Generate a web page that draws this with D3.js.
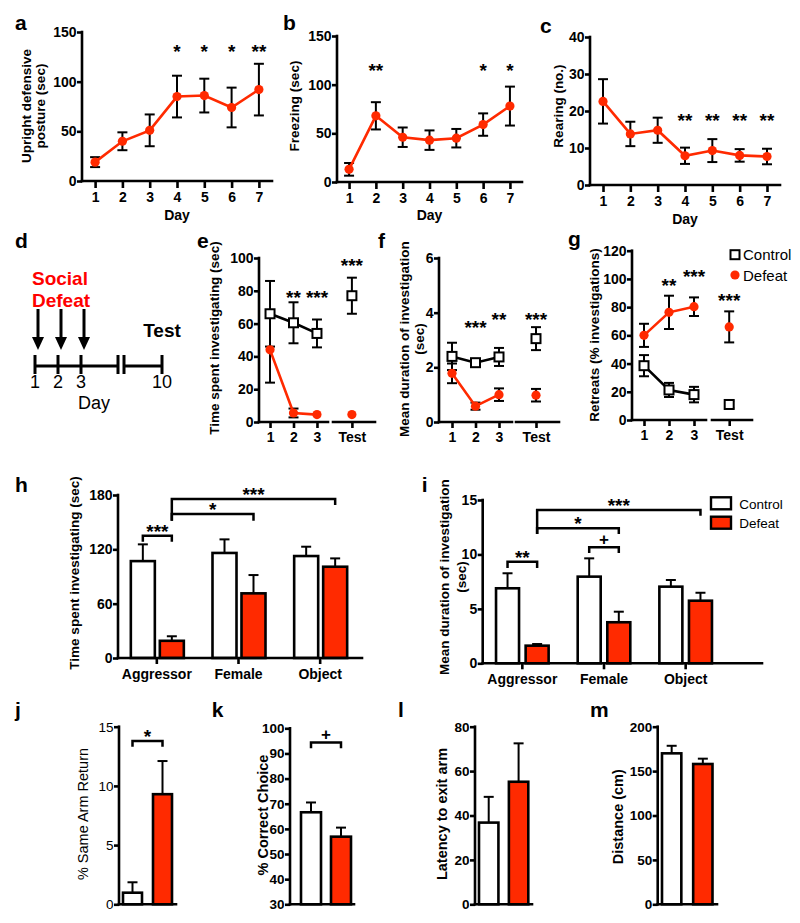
<!DOCTYPE html>
<html>
<head>
<meta charset="utf-8">
<script src="https://cdn.jsdelivr.net/npm/d3@7/dist/d3.min.js"></script>
<style>
html,body{margin:0;padding:0;background:#fff;}
svg{display:block;}
</style>
</head>
<body>
<svg id="fig" width="800" height="923"></svg>
<script>
// ---------------- DATA ----------------
const days = [1, 2, 3, 4, 5, 6, 7];

const uprightMean = [19, 40, 51, 85, 86, 74, 92];
const uprightSem  = [5, 9, 16, 21, 17, 20, 26];
const uprightStars = ["", "", "", "*", "*", "*", "**"];
const uprightStarLevel = 135;
const uprightTicks = [0, 50, 100, 150];

const freezingMean = [13, 68, 46, 43, 45, 59, 78];
const freezingSem  = [6.5, 14, 10, 10, 9.5, 11.5, 20];
const freezingStars = ["", "**", "", "", "", "*", "*"];
const freezingStarLevel = 118.5;
const freezingTicks = [0, 50, 100, 150];

const rearingMean = [22.6, 13.8, 14.8, 7.9, 9.3, 8.0, 7.7];
const rearingSem  = [6, 3.3, 3.4, 2.2, 3.1, 1.7, 2.1];
const rearingStars = ["", "", "", "**", "**", "**", "**"];
const rearingStarLevel = 18.5;
const rearingTicks = [0, 10, 20, 30, 40];

const defeatDays = [1, 2, 3];
const timelineDays = [1, 2, 3, 10];

const sessions = ["1", "2", "3", "Test"];
const timeCtrl = [66, 60.5, 54, 77];
const timeCtrlSem = [20, 12.5, 8.5, 11];
const timeDef = [44, 5.5, 4.5, 4.5];
const timeDefSem = [20, 2.7, 0, 0];
const timeStars = ["", "**", "***", "***"];
const timeStarLevel = [0, 78.5, 78.5, 97.7];
const timeTicks = [0, 20, 40, 60, 80, 100];

const durCtrl = [2.4, 2.17, 2.38, 3.05];
const durCtrlSem = [0.5, 0.1, 0.33, 0.42];
const durDef = [1.78, 0.58, 1.0, 0.98];
const durDefSem = [0.36, 0.13, 0.23, 0.23];
const durStars = ["", "***", "**", "***"];
const durStarLevel = [0, 3.61, 3.91, 3.91];
const durTicks = [0, 2, 4, 6];

const retCtrl = [38.5, 21.3, 18, 11];
const retCtrlSem = [7.5, 5, 5.5, 2.5];
const retDef = [60, 76.3, 80.3, 66];
const retDefSem = [8.2, 11.8, 6.6, 11];
const retStars = ["", "**", "***", "***"];
const retStarLevel = [0, 98, 105, 87.4];
const retTicks = [0, 20, 40, 60, 80, 100, 120];

const groups = ["Control", "Defeat"];
const targets = ["Aggressor", "Female", "Object"];

const hCtrl = [107, 116, 112.6];
const hCtrlSem = [18.5, 15, 10.3];
const hDef = [19, 71.4, 100.8];
const hDefSem = [5, 20.2, 9.2];
const hTicks = [0, 60, 120, 180];
const hBrackets = [
  {from: ["Aggressor", "Control"], to: ["Aggressor", "Defeat"], level: 135, legFrom: 128.4, legTo: 128.4, label: "***"},
  {from: ["Aggressor", "Defeat"], to: ["Female", "Defeat"], level: 159, legFrom: 151.6, legTo: 151.6, label: "*"},
  {from: ["Aggressor", "Defeat"], to: ["Object", "Defeat"], level: 175.6, legFrom: 151.6, legTo: 169, label: "***"}
];

const iCtrl = [6.89, 7.96, 7.04];
const iCtrlSem = [1.38, 1.68, 0.61];
const iDef = [1.62, 3.77, 5.75];
const iDefSem = [0.15, 0.97, 0.73];
const iTicks = [0, 5, 10, 15];
const iBrackets = [
  {from: ["Aggressor", "Control"], to: ["Aggressor", "Defeat"], level: 9.33, legFrom: 8.75, legTo: 8.75, label: "**"},
  {from: ["Female", "Control"], to: ["Female", "Defeat"], level: 10.65, legFrom: 10.13, legTo: 10.13, label: "+"},
  {from: ["Aggressor", "Defeat"], to: ["Female", "Defeat"], level: 12.4, legFrom: 11.87, legTo: 11.87, label: "*"},
  {from: ["Aggressor", "Defeat"], to: ["Object", "Defeat"], level: 14.08, legFrom: 11.87, legTo: 13.55, label: "***"}
];

const jVals = [0.98, 9.3];
const jSem = [0.88, 2.8];
const jTicks = [0, 5, 10, 15];
const jBracket = {level: 13.8, leg: 13.3, label: "*"};

const kVals = [66.6, 56.9];
const kSem = [3.9, 3.6];
const kTicks = [30, 40, 50, 60, 70, 80, 90, 100];
const kBracket = {level: 94.4, leg: 92.05, label: "+"};

const lVals = [36.8, 55.2];
const lSem = [11.6, 17.3];
const lTicks = [0, 20, 40, 60, 80];

const mVals = [170, 158];
const mSem = [8.5, 6];
const mTicks = [0, 50, 100, 150, 200];

// ---------------- DRAWING ----------------
const FONT = "'Liberation Sans', Arial, Helvetica, sans-serif";
const RED = "#ff2a00";
const SW = 2.6;
const svg = d3.select("#fig");

function ln(g, x1, y1, x2, y2, sw = SW, color = "#000", cap = "square") {
  return g.append("line").attr("x1", x1).attr("y1", y1).attr("x2", x2).attr("y2", y2)
    .attr("stroke", color).attr("stroke-width", sw).attr("stroke-linecap", cap);
}
function txt(g, x, y, s, o = {}) {
  const t = g.append("text").attr("x", x).attr("y", y).text(s)
    .attr("font-family", FONT).attr("font-size", o.size || 14)
    .attr("font-weight", o.weight || "bold").attr("fill", o.fill || "#000")
    .attr("text-anchor", o.anchor || "middle");
  if (o.rotate) t.attr("transform", `rotate(-90,${x},${y})`);
  return t;
}
function letter(x, y, s) { txt(svg, x, y, s, {size: 21, anchor: "start"}); }
function yLabel(g, lines, xs, yc, size = 13.5, weight = "bold") {
  lines.forEach((l, i) => txt(g, xs[i], yc, l, {size, weight, rotate: true}));
}
function leftAxis(g, y, x, ticks, o = {}) {
  const gg = g.append("g").attr("transform", `translate(${x},0)`)
    .call(d3.axisLeft(y).tickValues(ticks).tickSize(5).tickPadding(0.5).tickFormat(d3.format("d")));
  gg.attr("font-family", FONT).attr("font-size", o.size || 14).attr("font-weight", o.weight || "bold");
  gg.select(".domain").remove();
  gg.selectAll(".tick line").attr("stroke", "#000").attr("stroke-width", SW);
  gg.selectAll(".tick text").attr("fill", "#000");
  const r = y.range();
  ln(gg, 0, r[0], 0, r[1]);
  return gg;
}
function bottomAxis(g, x, yPix, x0, x1, ts, tp, o = {}) {
  const ax = d3.axisBottom(x).tickSize(ts).tickPadding(tp);
  const gg = g.append("g").attr("transform", `translate(0,${yPix})`).call(ax);
  gg.attr("font-family", FONT).attr("font-size", o.size || 14).attr("font-weight", "bold");
  gg.select(".domain").remove();
  gg.selectAll(".tick line").attr("stroke", "#000").attr("stroke-width", SW);
  gg.selectAll(".tick text").attr("fill", "#000");
  ln(gg, x0, 0, x1, 0);
  return gg;
}
function errBar(g, x, yLo, yHi, cap = 5, both = true) {
  ln(g, x, yLo, x, yHi, 2, "#000", "butt");
  ln(g, x - cap, yHi, x + cap, yHi, 2, "#000", "butt");
  if (both) ln(g, x - cap, yLo, x + cap, yLo, 2, "#000", "butt");
}
function star(g, x, yc, s, size = 19) {
  const off = s === "+" ? 0.36 : 0.56;
  txt(g, x, yc + off * size, s, {size});
}

// ---- panels a, b, c ----
function linePanel(c) {
  const g = svg.append("g");
  const x = d3.scalePoint().domain(days).range([c.x0, c.x1]).padding(c.pad);
  const y = d3.scaleLinear().domain([0, c.yMax]).range([c.yb, c.yt]);
  leftAxis(g, y, c.x0, c.ticks);
  bottomAxis(g, x, c.yb, c.x0, c.x1, 7, 4);
  days.forEach((d, i) => errBar(g, x(d), y(c.mean[i] - c.sem[i]), y(c.mean[i] + c.sem[i])));
  g.append("path").datum(days)
    .attr("d", d3.line().x(d => x(d)).y((d, i) => y(c.mean[i])))
    .attr("fill", "none").attr("stroke", RED).attr("stroke-width", 2.6);
  g.selectAll("circle.pt").data(days).join("circle").attr("class", "pt")
    .attr("cx", d => x(d)).attr("cy", (d, i) => y(c.mean[i])).attr("r", 4.6).attr("fill", RED);
  days.forEach((d, i) => { if (c.stars[i]) star(g, x(d), y(c.starLevel), c.stars[i]); });
  yLabel(g, c.label, c.labelX, c.labelY);
  txt(g, (c.x0 + c.x1) / 2, c.dayY, "Day", {size: 14});
}
linePanel({x0: 82, x1: 272, pad: 0.48, yb: 181, yt: 32, yMax: 150, ticks: uprightTicks,
  mean: uprightMean, sem: uprightSem, stars: uprightStars, starLevel: uprightStarLevel,
  label: ["Upright defensive", "posture (sec)"], labelX: [31, 44.5], labelY: 106, dayY: 220});
linePanel({x0: 337, x1: 522, pad: 0.45, yb: 182, yt: 36, yMax: 150, ticks: freezingTicks,
  mean: freezingMean, sem: freezingSem, stars: freezingStars, starLevel: freezingStarLevel,
  label: ["Freezing (sec)"], labelX: [298.6], labelY: 106, dayY: 220});
linePanel({x0: 590, x1: 780, pad: 0.476, yb: 185, yt: 37, yMax: 40, ticks: rearingTicks,
  mean: rearingMean, sem: rearingSem, stars: rearingStars, starLevel: rearingStarLevel,
  label: ["Rearing (no.)"], labelX: [562.6], labelY: 106, dayY: 224});
letter(15, 30, "a"); letter(283, 30, "b"); letter(540, 33, "c");

// ---- panel d ----
(function () {
  const g = svg.append("g");
  const xd = d3.scaleLinear().domain([1, 3, 10]).range([35, 81, 162]);
  const ty = 366;
  ln(g, xd(1), ty, 118, ty, 3, "#000", "butt");
  ln(g, 124, ty, xd(10), ty, 3, "#000", "butt");
  ln(g, 118, 355, 118, 374, 3, "#000", "butt");
  ln(g, 124, 355, 124, 374, 3, "#000", "butt");
  timelineDays.forEach(d => {
    ln(g, xd(d), 355, xd(d), 374, 3, "#000", "butt");
    txt(g, xd(d), 388, String(d), {size: 18, weight: "normal"});
  });
  defeatDays.forEach(d => {
    const ax = xd(d) + 3;
    ln(g, ax, 309, ax, 340, 3, "#000", "butt");
    g.append("path").attr("d", `M${ax - 6},337 L${ax + 6},337 L${ax},350 Z`).attr("fill", "#000");
  });
  txt(g, 94, 409, "Day", {size: 18, weight: "normal"});
  txt(g, 32, 285, "Social", {size: 19, fill: "#ff0000", anchor: "start"});
  txt(g, 32, 307, "Defeat", {size: 19, fill: "#ff0000", anchor: "start"});
  txt(g, 162, 337, "Test", {size: 19});
})();
letter(15, 248, "d");

// ---- panels e, f, g ----
function sessionPanel(c) {
  const g = svg.append("g");
  const x1 = d3.scalePoint().domain(sessions.slice(0, 3)).range([c.x0, c.x1]).padding(c.pad);
  const xT = d3.scalePoint().domain(["Test"]).range([c.t0, c.t1]).padding(0.5).align(c.talign);
  const xs = d => d === "Test" ? xT(d) : x1(d);
  const y = d3.scaleLinear().domain([0, c.yMax]).range([c.yb, c.yt]);
  leftAxis(g, y, c.x0, c.ticks);
  bottomAxis(g, x1, c.yb, c.x0, c.x1, 6, 4);
  bottomAxis(g, xT, c.yb, c.t0, c.t1, 6, 4);
  sessions.forEach((s, i) => {
    if (c.ctrlSem[i] > 0) errBar(g, xs(s), y(c.ctrl[i] - c.ctrlSem[i]), y(c.ctrl[i] + c.ctrlSem[i]));
    if (c.defSem[i] > 0) errBar(g, xs(s), y(c.def[i] - c.defSem[i]), y(c.def[i] + c.defSem[i]));
  });
  const first = sessions.slice(0, 3);
  g.append("path").datum(first)
    .attr("d", d3.line().x(d => xs(d)).y((d, i) => y(c.ctrl[i])))
    .attr("fill", "none").attr("stroke", "#000").attr("stroke-width", 2.6);
  g.append("path").datum(first)
    .attr("d", d3.line().x(d => xs(d)).y((d, i) => y(c.def[i])))
    .attr("fill", "none").attr("stroke", RED).attr("stroke-width", 2.6);
  g.selectAll("rect.ctrl").data(sessions).join("rect").attr("class", "ctrl")
    .attr("x", d => xs(d) - 4.5).attr("y", (d, i) => y(c.ctrl[i]) - 4.5)
    .attr("width", 9).attr("height", 9).attr("fill", "#fff").attr("stroke", "#000").attr("stroke-width", 2);
  g.selectAll("circle.def").data(sessions).join("circle").attr("class", "def")
    .attr("cx", d => xs(d)).attr("cy", (d, i) => y(c.def[i])).attr("r", 4.6).attr("fill", RED);
  sessions.forEach((s, i) => { if (c.stars[i]) star(g, xs(s), y(c.starLevel[i]), c.stars[i]); });
  yLabel(g, c.label, c.labelX, c.labelY);
  return g;
}
sessionPanel({x0: 259, x1: 328, pad: 0.47, t0: 333, t1: 375, talign: 0.45, yb: 422, yt: 258, yMax: 100,
  ticks: timeTicks, ctrl: timeCtrl, ctrlSem: timeCtrlSem, def: timeDef, defSem: timeDefSem,
  stars: timeStars, starLevel: timeStarLevel,
  label: ["Time spent investigating (sec)"], labelX: [218.6], labelY: 338});
sessionPanel({x0: 439, x1: 512, pad: 0.553, t0: 516, t1: 559, talign: 0.465, yb: 422, yt: 258, yMax: 6,
  ticks: durTicks, ctrl: durCtrl, ctrlSem: durCtrlSem, def: durDef, defSem: durDefSem,
  stars: durStars, starLevel: durStarLevel,
  label: ["Mean duration of investigation", "(sec)"], labelX: [409.3, 424.3], labelY: 339});
const gPanel = sessionPanel({x0: 632, x1: 706, pad: 0.48, t0: 712, t1: 752, talign: 0.43, yb: 420, yt: 250.7, yMax: 120,
  ticks: retTicks, ctrl: retCtrl, ctrlSem: retCtrlSem, def: retDef, defSem: retDefSem,
  stars: retStars, starLevel: retStarLevel,
  label: ["Retreats (% investigations)"], labelX: [599.3], labelY: 335});
// legend g
gPanel.append("rect").attr("x", 730.5).attr("y", 250.2).attr("width", 9).attr("height", 9)
  .attr("fill", "#fff").attr("stroke", "#000").attr("stroke-width", 2);
txt(gPanel, 743, 260, "Control", {size: 15, weight: "normal", anchor: "start"});
gPanel.append("circle").attr("cx", 735).attr("cy", 275).attr("r", 4.6).attr("fill", RED);
txt(gPanel, 743, 280.5, "Defeat", {size: 15, weight: "normal", anchor: "start"});
letter(197, 248, "e"); letter(378, 248, "f"); letter(568, 246, "g");

// ---- panels h, i ----
function groupedPanel(c) {
  const g = svg.append("g");
  const x0 = d3.scaleBand().domain(targets).range([c.r0, c.r1]);
  const x1 = d3.scaleBand().domain(groups).range([c.i0, c.i1]).paddingInner(c.ip);
  const y = d3.scaleLinear().domain([0, c.yMax]).range([c.yb, c.yt]);
  const bx = (t, k) => x0(t) + x0.bandwidth() / 2 + x1(k);
  const cx = (t, k) => bx(t, k) + x1.bandwidth() / 2;
  const series = {Control: [c.ctrl, c.ctrlSem], Defeat: [c.def, c.defSem]};
  groups.forEach(k => {
    targets.forEach((t, i) => {
      const v = series[k][0][i], s = series[k][1][i];
      errBar(g, cx(t, k), y(v), y(v + s), 5, false);
      g.append("rect").attr("x", bx(t, k)).attr("y", y(v)).attr("width", x1.bandwidth())
        .attr("height", y(0) - y(v)).attr("fill", k === "Control" ? "#fff" : RED)
        .attr("stroke", "#000").attr("stroke-width", 2.6);
    });
  });
  leftAxis(g, y, c.ax0, c.ticks);
  bottomAxis(g, x0, c.yb, c.ax0, c.axEnd, 6, 5);
  c.brackets.forEach(b => {
    const xa = cx(b.from[0], b.from[1]), xb = cx(b.to[0], b.to[1]);
    const yl = y(b.level);
    g.append("path").attr("d", `M${xa},${y(b.legFrom)} L${xa},${yl} L${xb},${yl} L${xb},${y(b.legTo)}`)
      .attr("fill", "none").attr("stroke", "#000").attr("stroke-width", 2.5);
    star(g, (xa + xb) / 2, yl - 8.5, b.label, b.label === "+" ? 17 : 19);
  });
  yLabel(g, c.label, c.labelX, c.labelY);
  return g;
}
groupedPanel({r0: 116, r1: 361, i0: -26, i1: 27, ip: 0.172, ax0: 118, axEnd: 362, yb: 658, yt: 495, yMax: 180,
  ticks: hTicks, ctrl: hCtrl, ctrlSem: hCtrlSem, def: hDef, defSem: hDefSem, brackets: hBrackets,
  label: ["Time spent investigating (sec)"], labelX: [79.3], labelY: 573});
const iPanel = groupedPanel({r0: 481.5, r1: 726.5, i0: -26.3, i1: 26.3, ip: 0.223, ax0: 482.7, axEnd: 762, yb: 663.3, yt: 500, yMax: 15,
  ticks: iTicks, ctrl: iCtrl, ctrlSem: iCtrlSem, def: iDef, defSem: iDefSem, brackets: iBrackets,
  label: ["Mean duration of investigation", "(sec)"], labelX: [449.3, 466], labelY: 577});
iPanel.append("rect").attr("x", 711).attr("y", 497.3).attr("width", 20).attr("height", 12)
  .attr("fill", "#fff").attr("stroke", "#000").attr("stroke-width", 2.4);
txt(iPanel, 739.3, 508.5, "Control", {size: 13.5, weight: "normal", anchor: "start"});
iPanel.append("rect").attr("x", 711).attr("y", 516.7).attr("width", 20).attr("height", 12)
  .attr("fill", RED).attr("stroke", "#000").attr("stroke-width", 2.4);
txt(iPanel, 739.3, 528, "Defeat", {size: 13.5, weight: "normal", anchor: "start"});
letter(15, 492, "h"); letter(421.7, 492, "i");

// ---- panels j, k, l, m ----
function simplePanel(c) {
  const g = svg.append("g");
  const x = d3.scaleBand().domain(groups).range([c.b0, c.b1]).paddingInner(c.ip);
  const y = d3.scaleLinear().domain(c.domain).range([c.yb, c.yt]);
  groups.forEach((k, i) => {
    const v = c.vals[i], s = c.sem[i];
    const xc = x(k) + x.bandwidth() / 2;
    errBar(g, xc, y(v), y(v + s), 5, false);
    g.append("rect").attr("x", x(k)).attr("y", y(v)).attr("width", x.bandwidth())
      .attr("height", y(c.domain[0]) - y(v)).attr("fill", k === "Control" ? "#fff" : RED)
      .attr("stroke", "#000").attr("stroke-width", 2.6);
  });
  leftAxis(g, y, c.ax0, c.ticks, {weight: c.weight || "bold", size: 13.5});
  ln(g, c.ax0, c.yb, c.axEnd, c.yb);
  if (c.bracket) {
    const xa = x("Control") + x.bandwidth() / 2, xb = x("Defeat") + x.bandwidth() / 2;
    const yl = y(c.bracket.level), yg = y(c.bracket.leg);
    g.append("path").attr("d", `M${xa},${yg} L${xa},${yl} L${xb},${yl} L${xb},${yg}`)
      .attr("fill", "none").attr("stroke", "#000").attr("stroke-width", 2.5);
    star(g, (xa + xb) / 2, yl - 8.5, c.bracket.label, c.bracket.label === "+" ? 17 : 19);
  }
  yLabel(g, c.label, c.labelX, c.labelY, 14.5, c.weight || "bold");
}
simplePanel({b0: 123, b1: 172, ip: 0.367, ax0: 119, axEnd: 176, yb: 904.3, yt: 726.7, domain: [0, 15],
  ticks: jTicks, vals: jVals, sem: jSem, bracket: jBracket, weight: "normal",
  label: ["% Same Arm Return"], labelX: [88], labelY: 814});
simplePanel({b0: 301, b1: 351, ip: 0.333, ax0: 290, axEnd: 354, yb: 904.3, yt: 728.3, domain: [30, 100],
  ticks: kTicks, vals: kVals, sem: kSem, bracket: kBracket,
  label: ["% Correct Choice"], labelX: [268], labelY: 815});
simplePanel({b0: 479, b1: 528.3, ip: 0.35, ax0: 475, axEnd: 532, yb: 904.3, yt: 726.7, domain: [0, 80],
  ticks: lTicks, vals: lVals, sem: lSem,
  label: ["Latency to exit arm"], labelX: [446.7], labelY: 814});
simplePanel({b0: 662, b1: 712.5, ip: 0.38, ax0: 657.7, axEnd: 717, yb: 904.3, yt: 726.7, domain: [0, 200],
  ticks: mTicks, vals: mVals, sem: mSem,
  label: ["Distance (cm)"], labelX: [623.3], labelY: 816.7});
letter(15, 717, "j"); letter(211.7, 716.7, "k"); letter(398, 716.7, "l"); letter(590, 716.7, "m");
</script>
</body>
</html>
